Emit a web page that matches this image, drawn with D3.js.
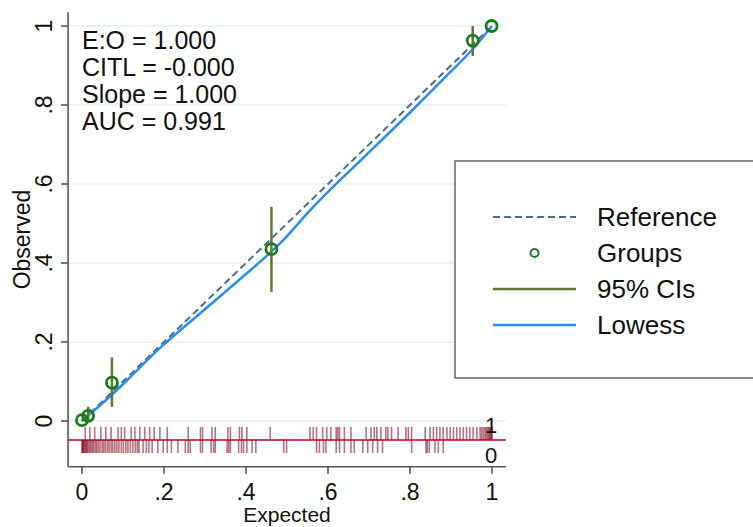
<!DOCTYPE html>
<html>
<head>
<meta charset="utf-8">
<script src="https://cdn.jsdelivr.net/npm/d3@7"></script>
<style>
    html, body { margin: 0; padding: 0; background: #fff; }
    svg text { font-family: "Liberation Sans", Arial, sans-serif; fill: #111; }
</style>
</head>
<body>
<div id="chart"></div>
<script>
// grouped calibration points
const groupExpected = [0.000, 0.015, 0.073, 0.462, 0.953, 0.999];
const groupObserved = [0.002, 0.013, 0.097, 0.435, 0.963, 1.000];
const ciLower = [0.000, 0.000, 0.036, 0.327, 0.924, 1.000];
const ciUpper = [0.004, 0.036, 0.161, 0.542, 1.000, 1.000];

// lowess smoother
const lowessX = [0.002, 0.05, 0.10, 0.185, 0.30, 0.40, 0.461, 0.491, 0.556, 0.60, 0.694, 0.80, 0.898, 0.95, 1.0];
const lowessY = [0.003, 0.045, 0.093, 0.180, 0.283, 0.372, 0.428, 0.458, 0.533, 0.580, 0.674, 0.781, 0.883, 0.938, 1.0];

// rug of predictions by outcome
const rugOutcome1 = [0.008, 0.019, 0.031, 0.046, 0.058, 0.071, 0.088, 0.096, 0.104, 0.120, 0.129, 0.141,
    0.153, 0.165, 0.176, 0.190, 0.208, 0.259, 0.289, 0.294, 0.317, 0.325, 0.356, 0.362, 0.384, 0.390,
    0.402, 0.459, 0.556, 0.564, 0.572, 0.587, 0.597, 0.607, 0.620, 0.624, 0.628, 0.640, 0.656, 0.693,
    0.705, 0.713, 0.719, 0.729, 0.741, 0.746, 0.755, 0.771, 0.790, 0.796, 0.804, 0.837, 0.849, 0.857,
    0.865, 0.873, 0.881, 0.890, 0.898, 0.906, 0.914, 0.922, 0.930, 0.938, 0.946, 0.954, 0.963, 0.971,
    0.975, 0.979, 0.983, 0.986, 0.989, 0.992, 0.994, 0.996, 0.998, 0.999, 1.000];
const rugOutcome0 = [0.000, 0.001, 0.002, 0.003, 0.004, 0.006, 0.008, 0.010, 0.012, 0.014, 0.017, 0.020,
    0.023, 0.026, 0.029, 0.033, 0.036, 0.040, 0.044, 0.049, 0.053, 0.057, 0.062, 0.066, 0.071, 0.075,
    0.080, 0.085, 0.090, 0.096, 0.101, 0.107, 0.112, 0.118, 0.124, 0.130, 0.135, 0.139, 0.149, 0.157,
    0.163, 0.171, 0.185, 0.198, 0.208, 0.218, 0.234, 0.252, 0.259, 0.264, 0.289, 0.294, 0.315, 0.321,
    0.325, 0.354, 0.358, 0.362, 0.382, 0.389, 0.394, 0.402, 0.415, 0.424, 0.492, 0.499, 0.572, 0.579,
    0.589, 0.595, 0.620, 0.628, 0.640, 0.656, 0.664, 0.685, 0.697, 0.709, 0.721, 0.733, 0.804, 0.839,
    0.842, 0.847, 0.861, 0.869, 0.881];

const tickValues = [0, 0.2, 0.4, 0.6, 0.8, 1];
const tickLabels = ["0", ".2", ".4", ".6", ".8", "1"];
const statLines = ["E:O = 1.000", "CITL = -0.000", "Slope = 1.000", "AUC = 0.991"];
const legendLabels = ["Reference", "Groups", "95% CIs", "Lowess"];

class CalibrationPlot {
    constructor(container) {
        this.container = container;
        this.width = 753;
        this.height = 527;
        this.init();
    }

    init() {
        d3.select(this.container).html("");
        this.svg = d3.select(this.container)
            .append("svg")
            .attr("width", this.width)
            .attr("height", this.height);

        // plot region: 0..1 maps to 82..492 / 421..26
        this.x = d3.scaleLinear().domain([0, 1]).range([82, 492]);
        this.y = d3.scaleLinear().domain([0, 1]).range([421, 26]);
        this.xMin = this.x(-0.034);
        this.xMax = this.x(1.034);
        this.yTop = this.y(1.035);
        this.yBottom = this.y(-0.116);
    }

    render() {
        const svg = this.svg, x = this.x, y = this.y;

        // gridlines
        svg.append("g")
            .selectAll("line")
            .data(tickValues)
            .join("line")
            .attr("x1", this.xMin).attr("x2", this.xMax)
            .attr("y1", d => y(d)).attr("y2", d => y(d))
            .attr("stroke", "#e6eff0")
            .attr("stroke-width", 1.5);

        // rug
        const rugBase = y(-0.048);
        svg.append("line")
            .attr("x1", this.xMin).attr("x2", this.xMax)
            .attr("y1", rugBase).attr("y2", rugBase)
            .attr("stroke", "#d23c5c")
            .attr("stroke-width", 2);

        const rug = svg.append("g")
            .attr("stroke", "#8c1c30")
            .attr("stroke-opacity", 0.62)
            .attr("stroke-width", 1.6);
        rug.selectAll("line.one")
            .data(rugOutcome1)
            .join("line")
            .attr("class", "one")
            .attr("x1", d => x(d)).attr("x2", d => x(d))
            .attr("y1", y(-0.015)).attr("y2", rugBase);
        rug.selectAll("line.zero")
            .data(rugOutcome0)
            .join("line")
            .attr("class", "zero")
            .attr("x1", d => x(d)).attr("x2", d => x(d))
            .attr("y1", rugBase).attr("y2", y(-0.081));

        svg.append("text")
            .attr("x", 491).attr("y", 433)
            .attr("text-anchor", "middle")
            .style("font-size", "22px")
            .text("1");
        svg.append("text")
            .attr("x", 491).attr("y", 463)
            .attr("text-anchor", "middle")
            .style("font-size", "22px")
            .text("0");

        // reference line
        svg.append("line")
            .attr("x1", x(0)).attr("y1", y(0))
            .attr("x2", x(1)).attr("y2", y(1))
            .attr("stroke", "#4f6b8a")
            .attr("stroke-width", 2)
            .attr("stroke-dasharray", "7,4");

        // lowess
        const lowess = lowessX.map((d, i) => [d, lowessY[i]]);
        svg.append("path")
            .datum(lowess)
            .attr("d", d3.line().x(d => x(d[0])).y(d => y(d[1])).curve(d3.curveMonotoneX))
            .attr("fill", "none")
            .attr("stroke", "#2a8ef0")
            .attr("stroke-width", 2.5);

        // confidence intervals
        svg.append("g")
            .selectAll("line")
            .data(groupExpected)
            .join("line")
            .attr("x1", d => x(d)).attr("x2", d => x(d))
            .attr("y1", (d, i) => y(ciLower[i]))
            .attr("y2", (d, i) => y(ciUpper[i]))
            .attr("stroke", "#5b7a2e")
            .attr("stroke-width", 2.5);

        // groups
        svg.append("g")
            .selectAll("circle")
            .data(groupExpected)
            .join("circle")
            .attr("cx", d => x(d))
            .attr("cy", (d, i) => y(groupObserved[i]))
            .attr("r", 5.5)
            .attr("fill", "none")
            .attr("stroke", "#1b7a1b")
            .attr("stroke-width", 2.8);

        // axes
        const axisColor = "#555";
        svg.append("line")
            .attr("x1", this.xMin).attr("x2", this.xMin)
            .attr("y1", this.yTop).attr("y2", this.yBottom)
            .attr("stroke", axisColor).attr("stroke-width", 1.6);
        svg.append("line")
            .attr("x1", this.xMin).attr("x2", this.xMax)
            .attr("y1", this.yBottom).attr("y2", this.yBottom)
            .attr("stroke", axisColor).attr("stroke-width", 1.6);

        const xTicks = svg.append("g")
            .selectAll("g")
            .data(tickValues)
            .join("g")
            .attr("transform", d => `translate(${x(d)},${this.yBottom})`);
        xTicks.append("line")
            .attr("y2", 7)
            .attr("stroke", axisColor).attr("stroke-width", 1.6);
        xTicks.append("text")
            .attr("y", 33)
            .attr("text-anchor", "middle")
            .style("font-size", "23px")
            .text((d, i) => tickLabels[i]);

        const yTicks = svg.append("g")
            .selectAll("g")
            .data(tickValues)
            .join("g")
            .attr("transform", d => `translate(${this.xMin},${y(d)})`);
        yTicks.append("line")
            .attr("x2", -7)
            .attr("stroke", axisColor).attr("stroke-width", 1.6);
        yTicks.append("text")
            .attr("transform", "translate(-16,0) rotate(-90)")
            .attr("text-anchor", "middle")
            .style("font-size", "23px")
            .text((d, i) => tickLabels[i]);

        svg.append("text")
            .attr("transform", `translate(30,${(this.yTop + this.yBottom) / 2}) rotate(-90)`)
            .attr("text-anchor", "middle")
            .style("font-size", "23px")
            .text("Observed");
        svg.append("text")
            .attr("x", (this.xMin + this.xMax) / 2)
            .attr("y", 522)
            .attr("text-anchor", "middle")
            .style("font-size", "21px")
            .text("Expected");

        // stats
        svg.append("g")
            .selectAll("text")
            .data(statLines)
            .join("text")
            .attr("x", 82)
            .attr("y", (d, i) => 49 + i * 27)
            .style("font-size", "25px")
            .text(d => d);

        this.renderLegend();
    }

    renderLegend() {
        const g = this.svg.append("g");
        g.append("rect")
            .attr("x", 455).attr("y", 161)
            .attr("width", 310).attr("height", 217)
            .attr("fill", "#fff")
            .attr("stroke", "#666")
            .attr("stroke-width", 1.5);

        const rows = g.selectAll("g")
            .data(legendLabels)
            .join("g")
            .attr("transform", (d, i) => `translate(0,${217 + i * 36})`);

        rows.append("text")
            .attr("x", 597)
            .attr("y", 9)
            .style("font-size", "26px")
            .text(d => d);

        rows.filter((d, i) => i === 0).append("line")
            .attr("x1", 493).attr("x2", 576)
            .attr("stroke", "#4f6b8a").attr("stroke-width", 2)
            .attr("stroke-dasharray", "7,4");
        rows.filter((d, i) => i === 1).append("circle")
            .attr("cx", 534.5).attr("r", 4)
            .attr("fill", "none")
            .attr("stroke", "#1b7a1b").attr("stroke-width", 2);
        rows.filter((d, i) => i === 2).append("line")
            .attr("x1", 493).attr("x2", 576)
            .attr("stroke", "#5b7a2e").attr("stroke-width", 2.5);
        rows.filter((d, i) => i === 3).append("line")
            .attr("x1", 493).attr("x2", 576)
            .attr("stroke", "#2a8ef0").attr("stroke-width", 2.5);
    }
}

const chart = new CalibrationPlot("#chart");
chart.render();
</script>
</body>
</html>
